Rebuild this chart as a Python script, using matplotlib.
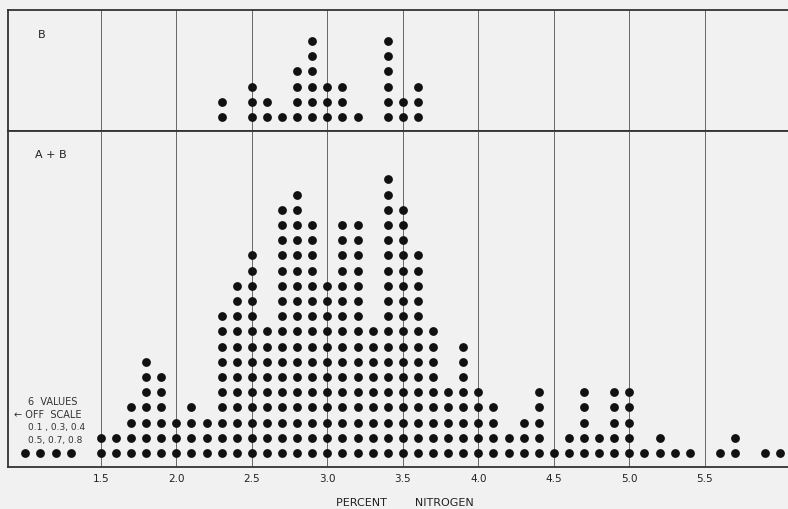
import matplotlib
matplotlib.use("Agg")
import matplotlib.pyplot as plt
import numpy as np

# percent nitrogen columns and number of samples (dots) in each
ab_pct = [1.0, 1.1, 1.2, 1.3,
          1.5, 1.6, 1.7, 1.8, 1.9, 2.0, 2.1, 2.2, 2.3, 2.4,
          2.5, 2.6, 2.7, 2.8, 2.9, 3.0, 3.1, 3.2, 3.3, 3.4,
          3.5, 3.6, 3.7, 3.8, 3.9, 4.0, 4.1, 4.2, 4.3, 4.4,
          4.5, 4.6, 4.7, 4.8, 4.9, 5.0, 5.1, 5.2, 5.3, 5.4,
          5.6, 5.7, 5.9, 6.0]
ab_count = [1, 1, 1, 1,
            2, 2, 4, 7, 6, 3, 4, 3, 10, 12,
            14, 9, 17, 18, 16, 12, 16, 16, 9, 19,
            17, 14, 9, 5, 8, 5, 4, 2, 3, 5,
            1, 2, 5, 2, 5, 5, 1, 2, 1, 1,
            1, 2, 1, 1]

b_pct = [2.3, 2.5, 2.6, 2.7, 2.8, 2.9, 3.0, 3.1, 3.2, 3.4, 3.5, 3.6]
b_count = [2, 3, 2, 1, 4, 6, 3, 3, 1, 6, 2, 3]

ticks = [1.5, 2.0, 2.5, 3.0, 3.5, 4.0, 4.5, 5.0, 5.5]
tick_labels = ["1.5", "2.0", "2.5", "3.0", "3.5", "4.0", "4.5", "5.0", "5.5"]

bg = "#f1f1f1"
ink = "#111111"


def stack(pct, count):
    xs = np.repeat(pct, count)
    ys = np.concatenate([np.arange(1, c + 1) for c in count])
    return xs, ys


fig = plt.figure(figsize=(7.88, 5.10), dpi=100, facecolor=bg)
W, H = 788, 510
ax_b = fig.add_axes([8 / W, 1 - 132 / H, 1 - 8 / W, 121 / H], facecolor=bg)
ax_ab = fig.add_axes([8 / W, 1 - 468 / H, 1 - 8 / W, 336 / H], facecolor=bg)

xlim = (0.885, 0.885 + 780 / 151)
for ax, rows in ((ax_b, 121 / 15.2), (ax_ab, 336 / 15.2)):
    ax.set_xlim(*xlim)
    ax.set_ylim(0.08, 0.08 + rows)
    for t in ticks:
        ax.axvline(t, color="#666666", lw=0.7, zorder=1)
    ax.set_yticks([])
    ax.spines["right"].set_visible(False)
    for s in ("left", "top", "bottom"):
        ax.spines[s].set_color("#333333")
        ax.spines[s].set_linewidth(1.3)

x, y = stack(b_pct, b_count)
ax_b.scatter(x, y, s=40, color=ink, zorder=3, linewidths=0)
ax_b.set_xticks([])
ax_b.text(30 / W, 1 - 24 / 121, "B", transform=ax_b.transAxes,
          fontsize=8, color="#222222", va="center")

x, y = stack(ab_pct, ab_count)
ax_ab.scatter(x, y, s=40, color=ink, zorder=3, linewidths=0)
ax_ab.set_xticks(ticks)
ax_ab.set_xticklabels(tick_labels, fontsize=7.5, color="#222222")
ax_ab.tick_params(axis="x", length=0, pad=4)
ax_ab.text(27 / W, 1 - 23 / 336, "A + B", transform=ax_ab.transAxes,
           fontsize=8, color="#222222", va="center")

note = ["6  VALUES", "\u2190 OFF  SCALE", "0.1 , 0.3, 0.4", "0.5, 0.7, 0.8"]
note_x = [28, 14, 28, 28]
note_y = [402, 415, 428, 440]
note_fs = [7, 7, 6.5, 6.5]
for t, nx, ny, fs in zip(note, note_x, note_y, note_fs):
    fig.text(nx / W, 1 - ny / H, t, fontsize=fs, color="#333333", va="center")

fig.text(405 / W, 1 - 503 / H, "PERCENT        NITROGEN", fontsize=8,
         color="#222222", ha="center", va="center")

fig.savefig("out.png", dpi=100, facecolor=bg)
